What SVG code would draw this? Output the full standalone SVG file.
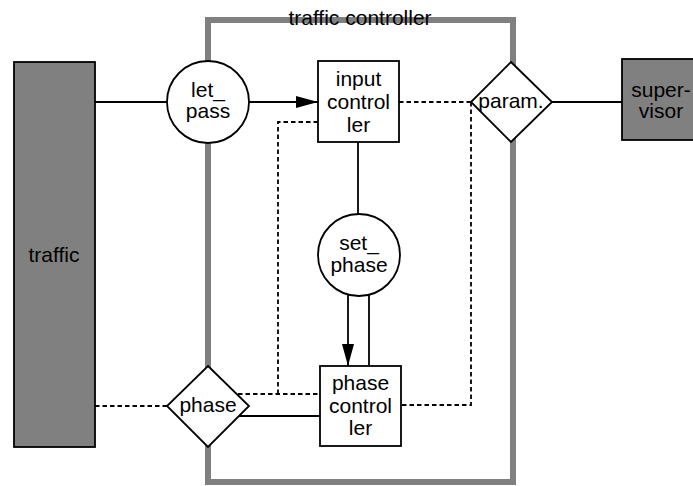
<svg xmlns="http://www.w3.org/2000/svg" width="693" height="486" viewBox="0 0 693 486">
<style>
text{font-family:"Liberation Sans",Arial,sans-serif;font-size:21px;fill:#000;text-anchor:middle}
.node{stroke:#000;stroke-width:1.8;fill:#fff}
.ext{stroke:#000;stroke-width:1.8;fill:#808080}
.c{stroke:#000;stroke-width:1.8;fill:none}
.d{stroke:#000;stroke-width:1.8;fill:none;stroke-dasharray:4.5 3}
</style>
<defs>
<marker id="ah" markerUnits="userSpaceOnUse" markerWidth="22" markerHeight="12" refX="22" refY="6" orient="auto">
<path d="M0,0 L22,6 L0,12 Z" fill="#000"/>
</marker>
</defs>
<rect width="693" height="486" fill="#fff"/>
<g id="traffic-controller">
<rect x="208" y="20" width="305" height="462" fill="none" stroke="#808080" stroke-width="6"/>
<text x="360" y="25">traffic controller</text>
</g>
<g id="connectors">
<path class="c" d="M95,102 H167"/>
<path class="c" d="M249,102 H318" marker-end="url(#ah)"/>
<path class="d" d="M399,102 H471"/>
<path class="c" d="M552,102 H622"/>
<path class="d" d="M471,102 V405 H401"/>
<path class="c" d="M358,142 V214"/>
<path class="c" d="M348,294.5 V366" marker-end="url(#ah)"/>
<path class="c" d="M369,295 V366"/>
<path class="d" d="M95,406 H167"/>
<path class="d" d="M238,394 H320"/>
<path class="d" d="M278,394 V122 H318"/>
<path class="c" d="M238,416 H320"/>
</g>
<g id="traffic">
<rect class="ext" x="14" y="62" width="81" height="385"/>
<text x="54" y="262">traffic</text>
</g>
<g id="supervisor">
<rect class="ext" x="622" y="59" width="80" height="81"/>
<text x="661" y="97">super-</text>
<text x="661" y="118">visor</text>
</g>
<g id="let_pass">
<circle class="node" cx="208" cy="102" r="41"/>
<text x="208" y="97">let_</text>
<text x="208" y="118">pass</text>
</g>
<g id="input_controller">
<rect class="node" x="318" y="61" width="81" height="81"/>
<text x="358.5" y="86">input</text>
<text x="358.5" y="109">control</text>
<text x="358.5" y="132">ler</text>
</g>
<g id="param">
<polygon class="node" points="511,62 552,102 511,142 471,102"/>
<text x="511" y="108">param.</text>
</g>
<g id="set_phase">
<circle class="node" cx="359" cy="255" r="41"/>
<text x="359" y="250">set_</text>
<text x="359" y="272">phase</text>
</g>
<g id="phase">
<polygon class="node" points="208,366 249,406 208,447 167,406"/>
<text x="208" y="412">phase</text>
</g>
<g id="phase_controller">
<rect class="node" x="320" y="366" width="81" height="80"/>
<text x="360.5" y="390">phase</text>
<text x="360.5" y="413">control</text>
<text x="360.5" y="435">ler</text>
</g>
</svg>
